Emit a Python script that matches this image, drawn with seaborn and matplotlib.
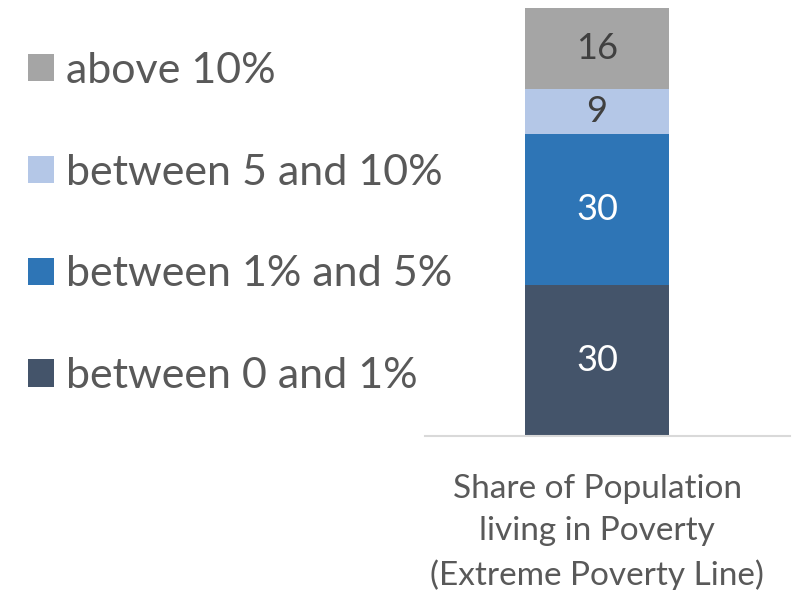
import matplotlib
matplotlib.use('Agg')
import matplotlib.pyplot as plt
import seaborn as sns
import pandas as pd
from matplotlib.patches import Patch

# Data (bottom to top of the stack)
category = 'Share of Population\nliving in Poverty\n(Extreme Poverty Line)'
series = ['between 0 and 1%', 'between 1% and 5%', 'between 5 and 10%', 'above 10%']
values = [30, 30, 9, 16]
colors = ['#44546A', '#2E75B6', '#B4C7E7', '#A5A5A5']
label_colors = ['white', 'white', '#404040', '#404040']

sns.set_style('white')
plt.rcParams['font.family'] = ['Lato', 'DejaVu Sans']

fig = plt.figure(figsize=(7.92, 5.90), dpi=100)
ax = fig.add_axes([0.537, 0.261, 0.46, 0.725])

# stacked bar: draw cumulative totals from the top down
cum = pd.Series(values).cumsum().tolist()
for i in reversed(range(len(values))):
    df = pd.DataFrame({'cat': [category], 'val': [cum[i]]})
    sns.barplot(data=df, x='cat', y='val', color=colors[i], saturation=1,
                width=0.4, ax=ax, linewidth=0)

# segment labels
for i, v in enumerate(values):
    mid = cum[i] - v / 2
    ax.text(0, mid, str(v), ha='center', va='center', fontsize=26,
            color=label_colors[i])

ax.set_xlim(-0.478, 0.536)
ax.set_ylim(0, 85)
ax.set_xlabel('')
ax.set_ylabel('')
ax.set_yticks([])
ax.tick_params(axis='x', length=0, pad=27, labelsize=24, labelcolor='#595959')
for t in ax.get_xticklabels():
    t.set_linespacing(1.52)
for s in ['top', 'right', 'left']:
    ax.spines[s].set_visible(False)
ax.spines['bottom'].set_color('#D9D9D9')
ax.spines['bottom'].set_linewidth(1.5)

handles = [Patch(facecolor=colors[i], edgecolor='none') for i in reversed(range(len(values)))]
labels = list(reversed(series))
fig.legend(handles, labels, loc='upper left', bbox_to_anchor=(0.035, 0.912),
           frameon=False, fontsize=31, labelcolor='#595959',
           handlelength=0.6, handleheight=0.6, handletextpad=0.3,
           labelspacing=1.48, borderpad=0, borderaxespad=0)

fig.savefig('out.png', dpi=100)
